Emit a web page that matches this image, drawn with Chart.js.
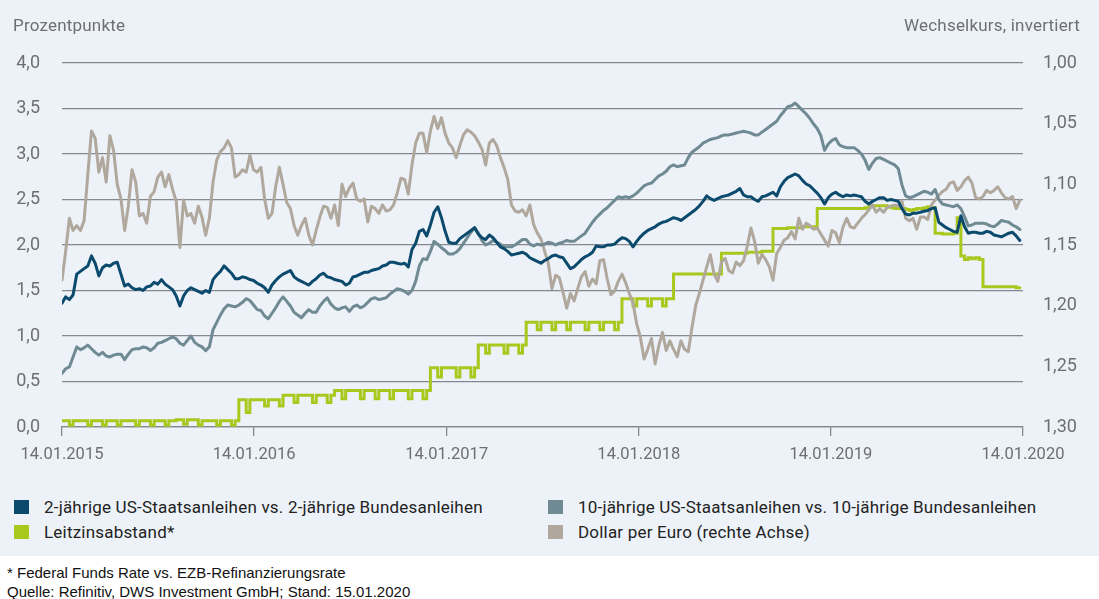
<!DOCTYPE html>
<html><head><meta charset="utf-8">
<script src="https://cdn.jsdelivr.net/npm/chart.js@4.4.1/dist/chart.umd.min.js"></script>
<style>
html,body{margin:0;padding:0;background:#fff;width:1099px;height:599px;overflow:hidden;font-family:Roboto,"Noto Sans",sans-serif;}
#panel{position:absolute;left:0;top:0;width:1099px;height:556px;background:#edf2f8;}
#wrap{position:absolute;left:0;top:0;width:1099px;height:470px;}
.axt{position:absolute;top:15px;font-size:17px;letter-spacing:0.2px;color:#6d6f72;line-height:20px;white-space:nowrap;}
.lg{position:absolute;font-size:17px;letter-spacing:0.2px;color:#222;line-height:20px;white-space:nowrap;}
.lg i{position:absolute;left:-30px;top:3px;width:15px;height:14px;}
.ft{position:absolute;left:7px;font-family:"Liberation Sans",Arial,sans-serif;font-size:15px;color:#111;line-height:18px;white-space:nowrap;}
</style></head>
<body>
<div id="panel"></div>
<div id="wrap"><canvas id="c" width="1099" height="470"></canvas></div>
<div class="axt" style="left:13px">Prozentpunkte</div>
<div class="axt" style="right:19px">Wechselkurs, invertiert</div>
<div id="legend"></div>
<div class="ft" style="top:564px">* Federal Funds Rate vs. EZB-Refinanzierungsrate</div>
<div class="ft" style="top:583px">Quelle: Refinitiv, DWS Investment GmbH; Stand: 15.01.2020</div>
<script>
// weekly observations, starting 14.01.2015
const stepDays = 7;
const xTickDays = [0, 365, 731, 1096, 1461, 1826];
const xTickLabels = ['14.01.2015','14.01.2016','14.01.2017','14.01.2018','14.01.2019','14.01.2020'];
const leftTicks = [0,0.5,1,1.5,2,2.5,3,3.5,4];
const rightTicks = [1.00,1.05,1.10,1.15,1.20,1.25,1.30];
const seriesNames = ['2-jährige US-Staatsanleihen vs. 2-jährige Bundesanleihen','10-jährige US-Staatsanleihen vs. 10-jährige Bundesanleihen','Leitzinsabstand*','Dollar per Euro (rechte Achse)'];
const seriesColors = ['#0b4a6c','#6f8a93','#a9c71d','#b0a79d'];

const spread2y = [1.36,1.43,1.40,1.45,1.68,1.71,1.74,1.77,1.88,1.80,1.66,
1.75,1.78,1.77,1.80,1.81,1.68,1.55,1.57,1.53,1.51,
1.52,1.50,1.54,1.55,1.59,1.57,1.62,1.57,1.54,1.51,
1.44,1.33,1.44,1.50,1.53,1.51,1.49,1.47,1.50,1.48,
1.62,1.67,1.71,1.77,1.73,1.69,1.63,1.63,1.65,1.64,
1.62,1.61,1.58,1.56,1.53,1.48,1.56,1.61,1.65,1.68,
1.70,1.72,1.65,1.62,1.60,1.58,1.56,1.60,1.63,1.67,
1.69,1.65,1.64,1.62,1.61,1.60,1.56,1.58,1.65,1.66,
1.68,1.70,1.70,1.72,1.73,1.74,1.77,1.78,1.81,1.81,
1.80,1.79,1.80,1.76,1.95,2.02,2.15,2.17,2.10,2.22,
2.36,2.42,2.30,2.15,2.03,2.02,2.02,2.07,2.10,2.13,
2.16,2.19,2.12,2.08,2.06,2.11,2.08,2.03,1.98,1.96,
1.93,1.89,1.90,1.91,1.92,1.90,1.86,1.84,1.82,1.80,
1.83,1.85,1.88,1.89,1.87,1.86,1.80,1.74,1.76,1.80,
1.84,1.87,1.89,1.92,1.99,1.98,1.98,2.00,2.00,2.01,
2.05,2.08,2.07,2.04,1.98,2.04,2.09,2.13,2.16,2.18,
2.20,2.23,2.25,2.26,2.28,2.30,2.29,2.27,2.30,2.33,
2.36,2.39,2.43,2.48,2.54,2.51,2.49,2.51,2.53,2.54,
2.55,2.57,2.59,2.62,2.55,2.53,2.53,2.50,2.48,2.53,
2.54,2.56,2.58,2.54,2.64,2.70,2.74,2.76,2.78,2.76,
2.71,2.67,2.65,2.61,2.57,2.52,2.45,2.52,2.56,2.58,
2.55,2.53,2.55,2.54,2.55,2.54,2.53,2.48,2.45,2.48,
2.50,2.52,2.52,2.49,2.50,2.49,2.48,2.40,2.34,2.33,
2.35,2.35,2.36,2.37,2.38,2.40,2.41,2.25,2.22,2.19,
2.17,2.15,2.14,2.32,2.20,2.13,2.14,2.14,2.13,2.13,
2.15,2.14,2.11,2.10,2.09,2.11,2.13,2.14,2.10,2.05];

const spread10y = [0.59,0.64,0.66,0.77,0.88,0.85,0.87,0.90,0.86,0.82,0.79,
0.82,0.78,0.77,0.79,0.80,0.80,0.74,0.80,0.85,0.86,
0.86,0.88,0.87,0.84,0.87,0.92,0.93,0.95,0.97,0.99,
0.97,0.92,0.90,0.95,1.00,0.93,0.90,0.88,0.84,0.88,
1.07,1.15,1.23,1.30,1.34,1.33,1.32,1.34,1.37,1.41,
1.39,1.34,1.29,1.28,1.22,1.19,1.25,1.31,1.38,1.43,
1.38,1.33,1.26,1.23,1.20,1.25,1.29,1.26,1.26,1.33,
1.38,1.42,1.35,1.31,1.29,1.31,1.32,1.27,1.32,1.34,
1.31,1.33,1.37,1.41,1.42,1.40,1.41,1.42,1.46,1.49,
1.52,1.51,1.49,1.46,1.50,1.60,1.77,1.85,1.84,1.93,
2.04,2.01,1.97,1.94,1.90,1.90,1.92,1.96,2.02,2.08,
2.14,2.19,2.13,2.05,2.00,2.02,2.05,2.03,2.01,1.98,
1.98,1.98,2.00,2.03,2.06,2.06,2.01,1.99,2.01,2.00,
2.01,2.03,2.02,2.00,2.02,2.03,2.05,2.04,2.04,2.07,
2.10,2.13,2.19,2.25,2.30,2.34,2.38,2.41,2.45,2.49,
2.53,2.52,2.53,2.52,2.54,2.57,2.61,2.65,2.67,2.68,
2.72,2.76,2.78,2.81,2.86,2.88,2.86,2.87,2.88,2.96,
3.02,3.05,3.08,3.12,3.14,3.16,3.17,3.18,3.20,3.21,
3.21,3.22,3.23,3.24,3.25,3.24,3.23,3.21,3.21,3.24,
3.27,3.30,3.33,3.36,3.42,3.47,3.52,3.53,3.56,3.52,
3.48,3.44,3.39,3.33,3.28,3.20,3.04,3.11,3.15,3.17,
3.10,3.08,3.07,3.07,3.07,3.04,3.00,2.93,2.83,2.90,
2.95,2.96,2.94,2.92,2.90,2.88,2.84,2.66,2.54,2.52,
2.53,2.55,2.57,2.59,2.58,2.56,2.61,2.50,2.45,2.44,
2.43,2.42,2.44,2.40,2.31,2.21,2.22,2.24,2.24,2.24,
2.23,2.21,2.20,2.23,2.27,2.26,2.25,2.22,2.20,2.17];

const leitzins = [0.07,0.07,0.02,0.07,0.07,0.07,0.07,0.02,0.07,0.07,0.07,
0.02,0.07,0.07,0.07,0.02,0.07,0.07,0.07,0.07,0.02,
0.07,0.07,0.07,0.02,0.07,0.07,0.07,0.02,0.07,0.07,
0.08,0.08,0.03,0.08,0.08,0.08,0.02,0.07,0.07,0.07,
0.07,0.02,0.07,0.07,0.07,0.02,0.07,0.30,0.30,0.16,
0.30,0.30,0.30,0.30,0.23,0.30,0.30,0.30,0.23,0.35,
0.35,0.35,0.27,0.35,0.35,0.35,0.35,0.27,0.35,0.35,
0.35,0.27,0.35,0.40,0.40,0.31,0.40,0.40,0.40,0.40,
0.31,0.40,0.40,0.40,0.31,0.40,0.40,0.40,0.31,0.40,
0.40,0.40,0.40,0.31,0.40,0.40,0.40,0.31,0.40,0.65,
0.65,0.55,0.65,0.65,0.65,0.65,0.55,0.65,0.65,0.65,
0.55,0.65,0.90,0.90,0.81,0.90,0.90,0.90,0.90,0.81,
0.90,0.90,0.90,0.81,0.90,1.15,1.15,1.15,1.07,1.15,
1.15,1.15,1.07,1.15,1.15,1.15,1.07,1.15,1.15,1.15,
1.15,1.07,1.15,1.15,1.15,1.07,1.15,1.15,1.15,1.07,
1.15,1.41,1.41,1.41,1.33,1.41,1.41,1.41,1.33,1.41,
1.41,1.41,1.33,1.41,1.41,1.68,1.68,1.68,1.68,1.68,
1.68,1.68,1.68,1.68,1.68,1.68,1.68,1.68,1.91,1.91,
1.91,1.91,1.91,1.91,1.91,1.92,1.92,1.92,1.92,1.93,
1.93,1.93,2.18,2.18,2.18,2.18,2.19,2.19,2.19,2.19,
2.20,2.20,2.20,2.20,2.40,2.40,2.40,2.40,2.40,2.40,
2.40,2.40,2.40,2.40,2.40,2.40,2.40,2.41,2.42,2.43,
2.43,2.43,2.43,2.42,2.41,2.40,2.40,2.40,2.39,2.38,
2.39,2.40,2.40,2.41,2.42,2.41,2.13,2.13,2.12,2.12,
2.12,2.13,2.30,1.88,1.84,1.86,1.85,1.86,1.84,1.54,
1.54,1.54,1.54,1.54,1.54,1.54,1.54,1.54,1.53,1.53];

const usdPerEur = [1.179,1.155,1.128,1.138,1.134,1.138,1.130,1.092,1.056,1.062,1.090,
1.078,1.098,1.060,1.072,1.100,1.112,1.138,1.118,1.088,1.098,
1.126,1.124,1.132,1.110,1.106,1.094,1.090,1.102,1.092,1.104,
1.114,1.152,1.113,1.126,1.124,1.132,1.118,1.127,1.142,1.128,
1.098,1.080,1.073,1.070,1.064,1.070,1.094,1.092,1.088,1.090,
1.076,1.088,1.090,1.086,1.112,1.128,1.124,1.102,1.086,1.100,
1.115,1.120,1.134,1.142,1.134,1.128,1.142,1.150,1.138,1.127,
1.118,1.119,1.128,1.117,1.134,1.100,1.110,1.103,1.099,1.112,
1.114,1.112,1.131,1.118,1.120,1.124,1.117,1.122,1.121,1.117,
1.107,1.095,1.096,1.108,1.084,1.066,1.058,1.058,1.074,1.056,
1.044,1.054,1.045,1.058,1.066,1.070,1.078,1.068,1.059,1.055,
1.057,1.060,1.065,1.071,1.084,1.066,1.063,1.068,1.078,1.086,
1.096,1.117,1.122,1.123,1.121,1.126,1.117,1.133,1.140,1.145,
1.155,1.165,1.186,1.175,1.177,1.189,1.202,1.190,1.196,1.186,
1.176,1.172,1.184,1.178,1.182,1.163,1.162,1.178,1.191,1.188,
1.180,1.174,1.181,1.190,1.198,1.215,1.226,1.244,1.236,1.227,
1.248,1.233,1.222,1.237,1.229,1.236,1.242,1.229,1.236,1.238,
1.218,1.200,1.190,1.179,1.168,1.158,1.174,1.180,1.164,1.161,
1.171,1.173,1.164,1.167,1.163,1.151,1.136,1.147,1.165,1.158,
1.162,1.168,1.179,1.157,1.152,1.146,1.144,1.139,1.145,1.128,
1.137,1.132,1.134,1.137,1.136,1.141,1.146,1.151,1.138,1.140,
1.148,1.135,1.128,1.135,1.136,1.132,1.128,1.125,1.121,1.117,
1.123,1.120,1.123,1.119,1.118,1.117,1.118,1.114,1.128,1.130,
1.128,1.137,1.127,1.127,1.129,1.117,1.113,1.109,1.106,1.104,
1.099,1.098,1.105,1.102,1.097,1.094,1.099,1.111,1.112,1.110,
1.105,1.107,1.105,1.102,1.107,1.111,1.112,1.110,1.120,1.113];

const toPts = arr => arr.map((v, i) => ({x: i * stepDays, y: v}));
const GRID = '#85898e';
const TICKC = '#6d6f72';
const yTickFont = {family: 'Roboto', size: 18};
const xTickFont = {family: 'Roboto', size: 16.5};

// legend (HTML)
const legendPos = [[44,497],[578,497],[44,522],[578,522]];
const legendOrder = [0,1,2,3];
const lg = document.getElementById('legend');
legendOrder.forEach((k, j) => {
  const d = document.createElement('div');
  d.className = 'lg';
  d.style.left = legendPos[j][0] + 'px';
  d.style.top = legendPos[j][1] + 'px';
  d.innerHTML = '<i style="background:' + seriesColors[k] + '"></i>' + seriesNames[k];
  lg.appendChild(d);
});

new Chart(document.getElementById('c'), {
  type: 'line',
  data: {
    datasets: [
      {label: seriesNames[0], data: toPts(spread2y), yAxisID: 'y', borderColor: seriesColors[0], order: 0},
      {label: seriesNames[1], data: toPts(spread10y), yAxisID: 'y', borderColor: seriesColors[1], order: 1},
      {label: seriesNames[3], data: toPts(usdPerEur), yAxisID: 'y2', borderColor: seriesColors[3], order: 2},
      {label: seriesNames[2], data: toPts(leitzins), yAxisID: 'y', borderColor: seriesColors[2], order: 3, stepped: true, borderJoinStyle: 'miter'}
    ]
  },
  options: {
    responsive: false,
    animation: false,
    events: [],
    layout: {padding: {left: 0, right: 0, top: 63, bottom: 0}},
    elements: {
      point: {radius: 0},
      line: {borderWidth: 3, tension: 0, borderJoinStyle: 'round', borderCapStyle: 'round', fill: false}
    },
    plugins: {legend: {display: false}, tooltip: {enabled: false}},
    scales: {
      x: {
        type: 'linear', min: 0, max: 1826,
        afterBuildTicks: s => { s.ticks = xTickDays.map(v => ({value: v})); },
        afterFit: s => { s.height = 43; },
        grid: {drawOnChartArea: false, drawTicks: true, tickLength: 9, color: GRID, lineWidth: 1.3},
        border: {display: true, color: GRID, width: 1.3},
        ticks: {color: TICKC, font: xTickFont, padding: 9, maxRotation: 0, autoSkip: false,
          callback: (v) => { const k = xTickDays.indexOf(v); return k >= 0 ? xTickLabels[k] : ''; }}
      },
      y: {
        position: 'left', min: 0, max: 4,
        afterBuildTicks: s => { s.ticks = leftTicks.map(v => ({value: v})); },
        afterFit: s => { s.width = 62; },
        grid: {color: GRID, lineWidth: 1.3, drawTicks: false},
        border: {display: false},
        ticks: {color: TICKC, font: yTickFont, padding: 22,
          callback: v => v.toFixed(1).replace('.', ',')}
      },
      y2: {
        position: 'right', min: 1.0, max: 1.3, reverse: true,
        afterBuildTicks: s => { s.ticks = rightTicks.map(v => ({value: v})); },
        afterFit: s => { s.width = 76; },
        grid: {drawOnChartArea: false, drawTicks: false},
        border: {display: false},
        ticks: {color: TICKC, font: yTickFont, padding: 20,
          callback: v => v.toFixed(2).replace('.', ',')}
      }
    }
  }
});
</script>
</body></html>
